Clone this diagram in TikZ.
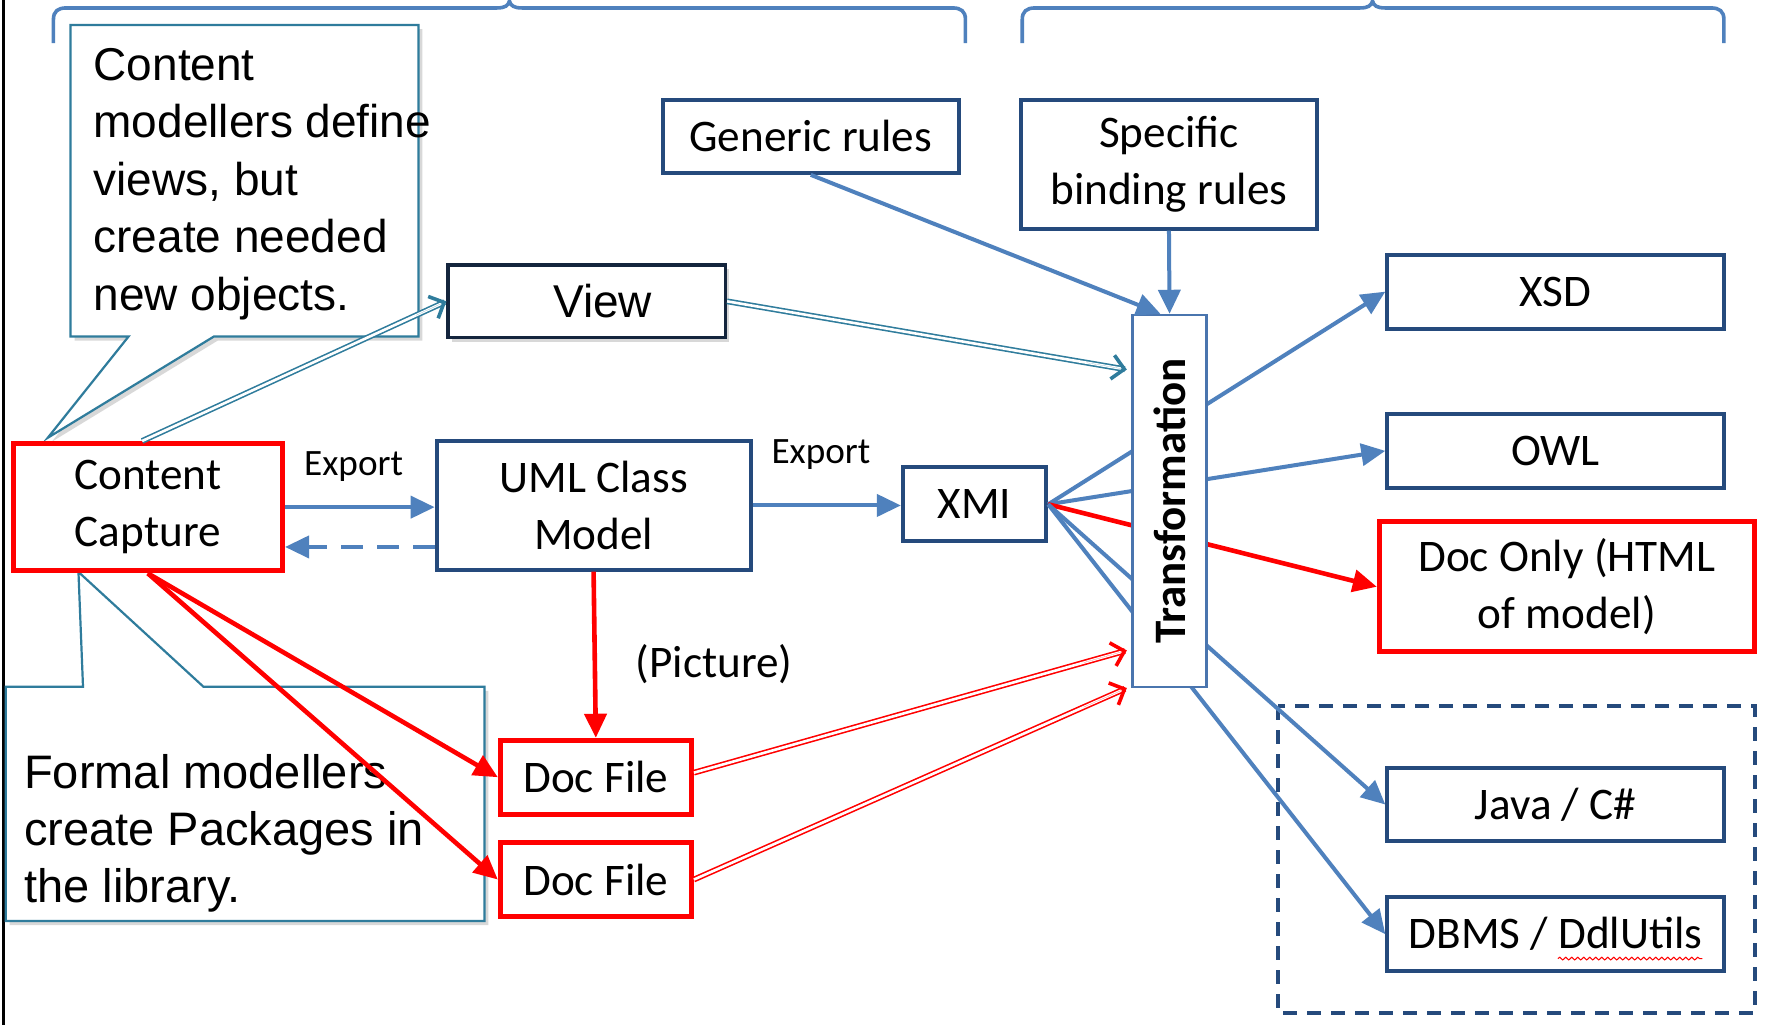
\documentclass[tikz,border=0pt]{standalone}
\usepackage{fontspec}
\usepackage{graphicx}
\usetikzlibrary{arrows.meta,shadows,decorations.pathmorphing,calc}
\newfontfamily\calib{Carlito}
\newfontfamily\arialf{Liberation Sans}
\definecolor{boxblue}{HTML}{254A7C}
\definecolor{arrblue}{HTML}{4F81BD}
\definecolor{tealc}{HTML}{2F7C9C}
\definecolor{viewc}{HTML}{14253D}
\definecolor{trc}{HTML}{4A75AE}
\newdimen\pu \pu=0.56855pt
\tikzset{
 lbl/.style={font=\calib\fontsize{22.6}{28.3}\selectfont},
 smalllbl/.style={font=\calib\fontsize{18.6}{22}\selectfont, inner sep=0pt},
 box/.style={draw=boxblue, line width=2pt, fill=white, inner sep=0pt, align=center, lbl},
 rbox/.style={box, draw=red, line width=2.5pt},
 barr/.style={draw=arrblue, line width=2pt, -{Triangle[length=12pt,width=11pt]}},
 rarr/.style={draw=red, line width=2.3pt, -{Triangle[length=12pt,width=11pt]}},
 dbl/.style={line width=0.8pt, double=white, double distance=1.3pt, shorten >=1pt},
 dbltip/.style={line width=0.01pt, -{Straight Barb[length=6pt,width=12pt,line width=1.8pt]}},
 callout/.style={draw=tealc, line width=1.1pt, fill=white, drop shadow={opacity=0.3,shadow xshift=2pt,shadow yshift=-2pt}},
 ctext/.style={font=\arialf\fontsize{23}{28.8}\selectfont, inner sep=0pt, anchor=base west},
 brace/.style={draw=arrblue, line width=1.8pt},
}
\begin{document}
\begin{tikzpicture}[x=0.56855pt, y=-0.56855pt]
\useasboundingbox (0,0) rectangle (1568,901);
\fill[white] (0,0) rectangle (1568,901);
\draw[black, line width=1.4pt] (3,0) -- (3,901);
% braces
\draw[brace] (47,38) -- (47,17) .. controls (47,10) and (51,7) .. (58,7) -- (437,7) .. controls (444,7) and (447,5) .. (448,1) .. controls (449,5) and (452,7) .. (459,7) -- (838,7) .. controls (845,7) and (849,10) .. (849,17) -- (849,38);
\draw[brace] (899,38) -- (899,17) .. controls (899,10) and (903,7) .. (910,7) -- (1196,7) .. controls (1203,7) and (1206,5) .. (1207,1) .. controls (1208,5) and (1211,7) .. (1218,7) -- (1505,7) .. controls (1512,7) and (1516,10) .. (1516,17) -- (1516,38);
% callouts
\coordinate (tip1) at (42,385);
\coordinate (tip2) at (69,503);
\draw[callout] (62,22) -- (368,22) -- (368,296) -- (188,296) -- (tip1) -- (113,296) -- (62,296) -- cycle;
\node[ctext] (t1) at (82,70.4) {\vtop{\hbox{Content}\hbox{modellers define}\hbox{views, but}\hbox{create needed}\hbox{new objects.}}};
\draw[callout] (5,604) -- (73,604) -- (tip2) -- (179,604) -- (426,604) -- (426,810) -- (5,810) -- cycle;
\node[ctext, font=\arialf\fontsize{23.5}{28.7}\selectfont] (t2) at (21,693) {\vtop{\hbox{Formal modellers}\hbox{create Packages in}\hbox{the library.}}};
% dashed group
\draw[draw=boxblue, line width=2pt, dash pattern=on 7pt off 5pt] (1124,621) rectangle (1543,891);
% nodes
\node[rbox, minimum width=237*\pu, minimum height=112*\pu] (cc) at (130,446) {Content\\Capture};
\node[box, minimum width=276*\pu, minimum height=113*\pu] (uml) at (522,444.5) {UML Class\\Model};
\node[box, minimum width=126*\pu, minimum height=65*\pu] (xmi) at (857,443.5) {XMI};
\node[box, draw=viewc, line width=1.6pt, font=\arialf\fontsize{23}{28}\selectfont, minimum width=244*\pu, minimum height=64*\pu, drop shadow={opacity=0.3,shadow xshift=2pt,shadow yshift=-2pt}] (view) at (516,265) {\hspace*{28\pu}View};
\node[box, minimum width=260*\pu, minimum height=64*\pu] (gen) at (713,120) {Generic rules};
\node[box, minimum width=260*\pu, minimum height=113*\pu] (spec) at (1028,144.5) {Specific\\binding rules};
\node[box, minimum width=296*\pu, minimum height=65*\pu] (xsd) at (1368,256.5) {XSD};
\node[box, minimum width=296*\pu, minimum height=65*\pu] (owl) at (1368,396.5) {OWL};
\node[rbox, minimum width=330*\pu, minimum height=114*\pu] (doc) at (1378,516) {Doc Only (HTML\\of model)};
\node[box, minimum width=296*\pu, minimum height=65*\pu] (java) at (1368,707.5) {Java / C\#};
\node[box, minimum width=296*\pu, minimum height=65*\pu] (dbms) at (1368,821.5) {DBMS / DdlUtils};
\draw[red, line width=0.5pt, decorate, decoration={snake, amplitude=0.7pt, segment length=3pt}] (1370,843) -- (1497,843);
\node[rbox, minimum width=168*\pu, minimum height=65*\pu] (df1) at (524,683.5) {Doc File};
\node[rbox, minimum width=168*\pu, minimum height=65*\pu] (df2) at (524,773.5) {Doc File};
% labels
\node[smalllbl] (ex1) at (311,410) {Export};
\node[smalllbl] (ex2) at (722,400) {Export};
\node[lbl, inner sep=0pt] (pic) at (628,584) {(Picture)};
% edges
\draw[barr] (cc.east) -- (cc.east -| uml.west);
\draw[barr, dash pattern=on 11pt off 7pt] (uml.west |- 0,481) -- (cc.east |- 0,481);
\draw[barr] (uml.east) -- (uml.east -| xmi.west);
\draw[rarr] (uml.south) -- (df1.north);
\draw[rarr] (cc.south) -- (df1.west);
\draw[rarr] (cc.south) -- (df2.west);
\coordinate (vs) at ([xshift=-5\pu]cc.north);
\draw[dbl, draw=tealc] (vs) -- (view.west);
\draw[dbltip, draw=tealc] ($(vs)!0.9!(view.west)$) -- (view.west);
% fan from XMI through transformation
\draw[barr] (xmi.east) -- (xsd.west);
\draw[barr] (xmi.east) -- (owl.west);
\draw[rarr] (xmi.east) -- (doc.west);
\draw[barr] (xmi.east) -- (java.west);
\draw[barr] (xmi.east) -- (dbms.west);
\node[draw=trc, line width=1.2pt, fill=white, inner sep=0pt, minimum width=65*\pu, minimum height=327*\pu, font=\calib\bfseries\fontsize{22.5}{27}\selectfont] (tr) at (1028.5,440.5) {\rotatebox{90}{Transformation}};
\draw[barr] (gen.south) -- ([xshift=-8\pu]tr.north);
\draw[barr] (spec.south) -- (tr.north);
\coordinate (te1) at ([xshift=-4\pu]tr.west |- 0,325);
\coordinate (te2) at ([xshift=-4\pu]tr.west |- 0,572);
\coordinate (te3) at ([xshift=-4\pu]tr.south west);
\coordinate (d1s) at ([yshift=4\pu]df1.east);
\draw[dbl, draw=tealc] (view.east) -- (te1);
\draw[dbltip, draw=tealc] ($(view.east)!0.9!(te1)$) -- (te1);
\draw[dbl, draw=red] (d1s) -- (te2);
\draw[dbltip, draw=red] ($(d1s)!0.9!(te2)$) -- (te2);
\draw[dbl, draw=red] (df2.east) -- (te3);
\draw[dbltip, draw=red] ($(df2.east)!0.9!(te3)$) -- (te3);
\end{tikzpicture}
\end{document}
